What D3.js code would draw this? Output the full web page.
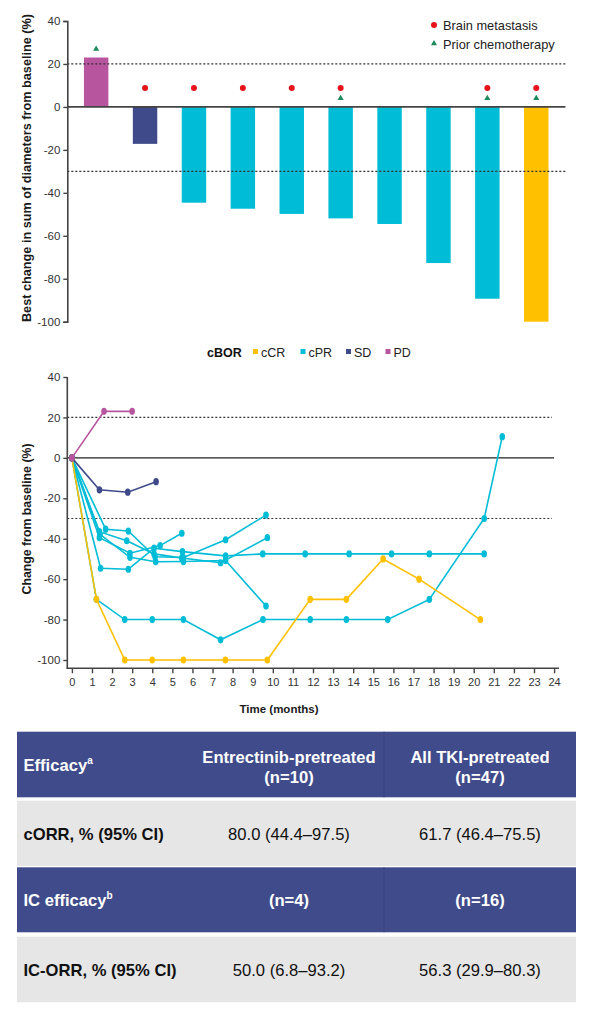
<!DOCTYPE html>
<html>
<head>
<meta charset="utf-8">
<script src="https://cdn.jsdelivr.net/npm/d3@7"></script>
<style>
body { margin: 0; background: #fff; }
svg { font-family: "Liberation Sans", Arial, sans-serif; display: block; }
</style>
</head>
<body>
<svg id="fig" width="593" height="1024"></svg>
<script>
// waterfall data
const patients = d3.range(10);
const bestChange = [23, -17.2, -44.6, -47.4, -49.8, -51.9, -54.5, -72.7, -89.3, -100];
const bestResp = ["PD", "SD", "cPR", "cPR", "cPR", "cPR", "cPR", "cPR", "cPR", "cCR"];
const brainMet = [0, 1, 1, 1, 1, 1, 0, 0, 1, 1];
const priorChemo = [1, 0, 0, 0, 0, 1, 0, 0, 1, 1];

// spider data, one pair of arrays per patient
const pdMonths = [0, 1.6, 3.0];
const pdChange = [0, 23, 23];
const sdMonths = [0, 1.37, 2.78, 4.19];
const sdChange = [0, -15.8, -17, -11.8];
const crMonths = [0, 1.22, 2.63, 4.0, 5.55, 7.64, 9.73, 11.86, 13.66, 15.49, 17.28, 20.33];
const crChange = [0, -70, -100, -100, -100, -100, -100, -70, -70, -50, -60, -80];
const prAMonths = [0, 1.22, 2.63, 4.0, 5.55, 7.4, 9.51, 11.86, 13.66, 15.72, 17.79, 20.52, 21.42];
const prAChange = [0, -70, -80, -80, -80, -90, -80, -80, -80, -80, -70, -30, 10.5];
const prBMonths = [0, 1.43, 2.81, 4.09, 5.5, 7.65, 9.5, 11.61, 13.8, 15.91, 17.79, 20.52];
const prBChange = [0, -54.6, -55.1, -44.7, -46.4, -48.5, -47.5, -47.5, -47.5, -47.5, -47.5, -47.5];
const prCMonths = [0, 1.37, 2.89, 4.39, 5.47];
const prCChange = [0, -39.5, -47.2, -43.4, -37.3];
const prDMonths = [0, 1.68, 2.81, 4.14, 5.55, 7.65, 9.66];
const prDChange = [0, -35.3, -36.2, -48.9, -49.3, -40.5, -28.3];
const prEMonths = [0, 1.37, 2.73, 4.09, 5.47, 7.4, 9.73];
const prEChange = [0, -36.5, -41, -47.5, -49.5, -51.9, -39.5];
const prFMonths = [0, 1.4, 2.89, 4.17, 5.55, 7.65, 9.66];
const prFChange = [0, -37.8, -49.2, -51.4, -51.3, -50.8, -73.3];

const respKeys = ["cCR", "cPR", "SD", "PD"];
const respColors = ["#FFC000", "#00BCD6", "#3E4A89", "#B8559F"];

const yTicks = [40, 20, 0, -20, -40, -60, -80, -100];
const monthTicks = d3.range(0, 25);

// table content
const tableCols = ["Efficacy", "Entrectinib-pretreated\n(n=10)", "All TKI-pretreated\n(n=47)"];
const cORR = ["cORR, % (95% CI)", "80.0 (44.4–97.5)", "61.7 (46.4–75.5)"];
const icCols = ["IC efficacy", "(n=4)", "(n=16)"];
const icORR = ["IC-ORR, % (95% CI)", "50.0 (6.8–93.2)", "56.3 (29.9–80.3)"];

const color = d3.scaleOrdinal().domain(respKeys).range(respColors);
const svg = d3.select("#fig");
const axisCol = "#444";

// ---------- waterfall ----------
const xTop = d3.scaleBand().domain(patients).range([71.7, 560.7]).paddingInner(0.5).paddingOuter(0.25);
const yTop = d3.scaleLinear().domain([-100, 40]).range([321.7, 21]);

const gTop = svg.append("g");
gTop.selectAll("rect.bar")
  .data(patients)
  .join("rect")
  .attr("class", "bar")
  .attr("x", d => xTop(d))
  .attr("width", xTop.bandwidth())
  .attr("y", d => yTop(Math.max(0, bestChange[d])))
  .attr("height", d => Math.abs(yTop(bestChange[d]) - yTop(0)))
  .attr("fill", d => color(bestResp[d]));

[20, -30].forEach(v => {
  gTop.append("line")
    .attr("x1", 67.3).attr("x2", 565.4)
    .attr("y1", yTop(v)).attr("y2", yTop(v))
    .attr("stroke", "#333").attr("stroke-width", 1.2).attr("stroke-dasharray", "2,2");
});
gTop.append("line")
  .attr("x1", 67.3).attr("x2", 565.4)
  .attr("y1", yTop(0)).attr("y2", yTop(0))
  .attr("stroke", axisCol).attr("stroke-width", 1.6);

const yAxisTop = gTop.append("g")
  .attr("transform", "translate(67.3,0)")
  .call(d3.axisLeft(yTop).tickValues(yTicks).tickSize(4).tickFormat(d => d));
yAxisTop.select(".domain").attr("stroke", axisCol).attr("stroke-width", 1.6);
yAxisTop.selectAll(".tick line").attr("stroke", axisCol).attr("stroke-width", 1.4);
yAxisTop.selectAll("text").attr("font-size", 11.5).attr("fill", "#333").attr("font-family", "Liberation Sans, Arial");

// markers above bars
gTop.selectAll("circle.bm")
  .data(patients.filter(d => brainMet[d]))
  .join("circle")
  .attr("class", "bm")
  .attr("cx", d => xTop(d) + xTop.bandwidth() / 2)
  .attr("cy", d => yTop(Math.max(0, bestChange[d]) + 8.8))
  .attr("r", 3)
  .attr("fill", "#E8121B");
const tri = d3.symbol().type(d3.symbolTriangle).size(16);
gTop.selectAll("path.pc")
  .data(patients.filter(d => priorChemo[d]))
  .join("path")
  .attr("class", "pc")
  .attr("d", tri)
  .attr("transform", d => `translate(${xTop(d) + xTop.bandwidth() / 2},${yTop(Math.max(0, bestChange[d]) + 4)})`)
  .attr("fill", "#1C8A5C");

// legend top
gTop.append("circle").attr("cx", 434).attr("cy", 25).attr("r", 3).attr("fill", "#E8121B");
gTop.append("text").attr("x", 443).attr("y", 29.5).attr("font-size", 12.8).attr("fill", "#222").text("Brain metastasis");
gTop.append("path").attr("d", tri).attr("transform", "translate(434,43.5)").attr("fill", "#1C8A5C");
gTop.append("text").attr("x", 443).attr("y", 48.5).attr("font-size", 12.8).attr("fill", "#222").text("Prior chemotherapy");

gTop.append("text")
  .attr("transform", "translate(31,168) rotate(-90)")
  .attr("text-anchor", "middle")
  .attr("font-size", 12.7)
  .attr("font-weight", "bold")
  .attr("fill", "#1a1a1a")
  .text("Best change in sum of diameters from baseline (%)");

// ---------- legend (cBOR) ----------
const leg = svg.append("g");
leg.append("text").attr("x", 207).attr("y", 356.5).attr("font-size", 12.5).attr("font-weight", "bold").attr("fill", "#111").text("cBOR");
const legX = [253, 300.5, 346, 385.5];
respKeys.forEach((k, i) => {
  leg.append("rect").attr("x", legX[i]).attr("y", 349).attr("width", 5).attr("height", 5).attr("fill", color(k));
  leg.append("text").attr("x", legX[i] + 8).attr("y", 356.5).attr("font-size", 12.5).attr("fill", "#222").text(k);
});

// ---------- spider ----------
const xS = d3.scaleLinear().domain([0, 24]).range([71.9, 554.1]);
const yS = d3.scaleLinear().domain([-100, 40]).range([660, 377]);
const sp = svg.append("g");

[20, -30].forEach(v => {
  sp.append("line")
    .attr("x1", 67.3).attr("x2", 552)
    .attr("y1", yS(v)).attr("y2", yS(v))
    .attr("stroke", "#333").attr("stroke-width", 1.2).attr("stroke-dasharray", "2,2");
});
sp.append("line")
  .attr("x1", 67.3).attr("x2", 554)
  .attr("y1", yS(0)).attr("y2", yS(0))
  .attr("stroke", "#222").attr("stroke-width", 1.4);

const yAxisS = sp.append("g")
  .attr("transform", "translate(67.3,0)")
  .call(d3.axisLeft(yS).tickValues(yTicks).tickSize(4).tickFormat(d => d));
yAxisS.select(".domain").remove();
yAxisS.append("line").attr("x1", 0).attr("x2", 0).attr("y1", 377).attr("y2", 668.5).attr("stroke", axisCol).attr("stroke-width", 1.6);
yAxisS.selectAll(".tick line").attr("stroke", axisCol).attr("stroke-width", 1.4);
yAxisS.selectAll("text").attr("font-size", 11.5).attr("fill", "#333");

const xAxisS = sp.append("g")
  .attr("transform", "translate(0,668.3)")
  .call(d3.axisBottom(xS).tickValues(monthTicks).tickSize(5).tickFormat(d => d));
xAxisS.select(".domain").remove();
xAxisS.append("line").attr("x1", 66.5).attr("x2", 559).attr("stroke", axisCol).attr("stroke-width", 1.6);
xAxisS.selectAll(".tick line").attr("stroke", axisCol).attr("stroke-width", 1.4);
xAxisS.selectAll("text").attr("font-size", 11).attr("fill", "#333").attr("dy", "0.9em");

sp.append("text")
  .attr("transform", "translate(31,519) rotate(-90)")
  .attr("text-anchor", "middle")
  .attr("font-size", 12.3).attr("font-weight", "bold").attr("fill", "#1a1a1a")
  .text("Change from baseline (%)");
sp.append("text")
  .attr("x", 279).attr("y", 713)
  .attr("text-anchor", "middle")
  .attr("font-size", 11.5).attr("font-weight", "bold").attr("fill", "#1a1a1a")
  .text("Time (months)");

const series = [
  { r: "cPR", t: prFMonths, v: prFChange },
  { r: "cPR", t: prEMonths, v: prEChange },
  { r: "cPR", t: prDMonths, v: prDChange },
  { r: "cPR", t: prCMonths, v: prCChange },
  { r: "cPR", t: prBMonths, v: prBChange },
  { r: "cPR", t: prAMonths, v: prAChange },
  { r: "cCR", t: crMonths, v: crChange },
  { r: "SD", t: sdMonths, v: sdChange },
  { r: "PD", t: pdMonths, v: pdChange }
];
const line = d3.line().x(d => xS(d[0])).y(d => yS(d[1]));
series.forEach(s => {
  const pts = s.t.map((t, i) => [t, s.v[i]]);
  const g = sp.append("g");
  g.append("path").attr("d", line(pts)).attr("fill", "none")
    .attr("stroke", color(s.r)).attr("stroke-width", 1.6);
  g.selectAll("ellipse").data(pts).join("ellipse")
    .attr("cx", d => xS(d[0])).attr("cy", d => yS(d[1]))
    .attr("rx", 2.8).attr("ry", 3.6)
    .attr("fill", color(s.r));
});

// ---------- table ----------
const tb = svg.append("g");
const colX = [17, 194, 384, 576];
const rows = [
  { y: 731.7, h: 65.6, fill: "#404B8B", cells: tableCols, head: true, sup: "a" },
  { y: 800.7, h: 65.3, fill: "#E6E6E6", cells: cORR, head: false },
  { y: 867.3, h: 65, fill: "#404B8B", cells: icCols, head: true, sup: "b" },
  { y: 936.7, h: 65.6, fill: "#E6E6E6", cells: icORR, head: false }
];
rows.forEach(r => {
  tb.append("rect").attr("x", colX[0]).attr("y", r.y).attr("width", colX[3] - colX[0]).attr("height", r.h).attr("fill", r.fill);
  if (r.head) {
    tb.append("line").attr("x1", colX[2]).attr("x2", colX[2]).attr("y1", r.y).attr("y2", r.y + r.h)
      .attr("stroke", "#3A447F").attr("stroke-width", 1);
  }
  const cy = r.y + r.h / 2;
  r.cells.forEach((c, i) => {
    const lines = c.split("\n");
    const t = tb.append("text")
      .attr("font-size", 16.6)
      .attr("fill", r.head ? "#fff" : "#111")
      .attr("font-weight", (r.head || i === 0) ? "bold" : "normal");
    if (i === 0) {
      t.attr("x", 23.5).attr("y", cy + 6.5);
      t.append("tspan").text(lines[0]);
      if (r.sup) t.append("tspan").attr("font-size", 10).attr("dy", -7).text(r.sup);
    } else {
      const cx = (colX[i] + colX[i + 1]) / 2;
      t.attr("text-anchor", "middle");
      lines.forEach((l, j) => {
        t.append("tspan").attr("x", cx)
          .attr("y", lines.length > 1 ? cy - 1.2 + j * 19.5 : cy + 6.5)
          .text(l);
      });
    }
  });
});
</script>
</body>
</html>
